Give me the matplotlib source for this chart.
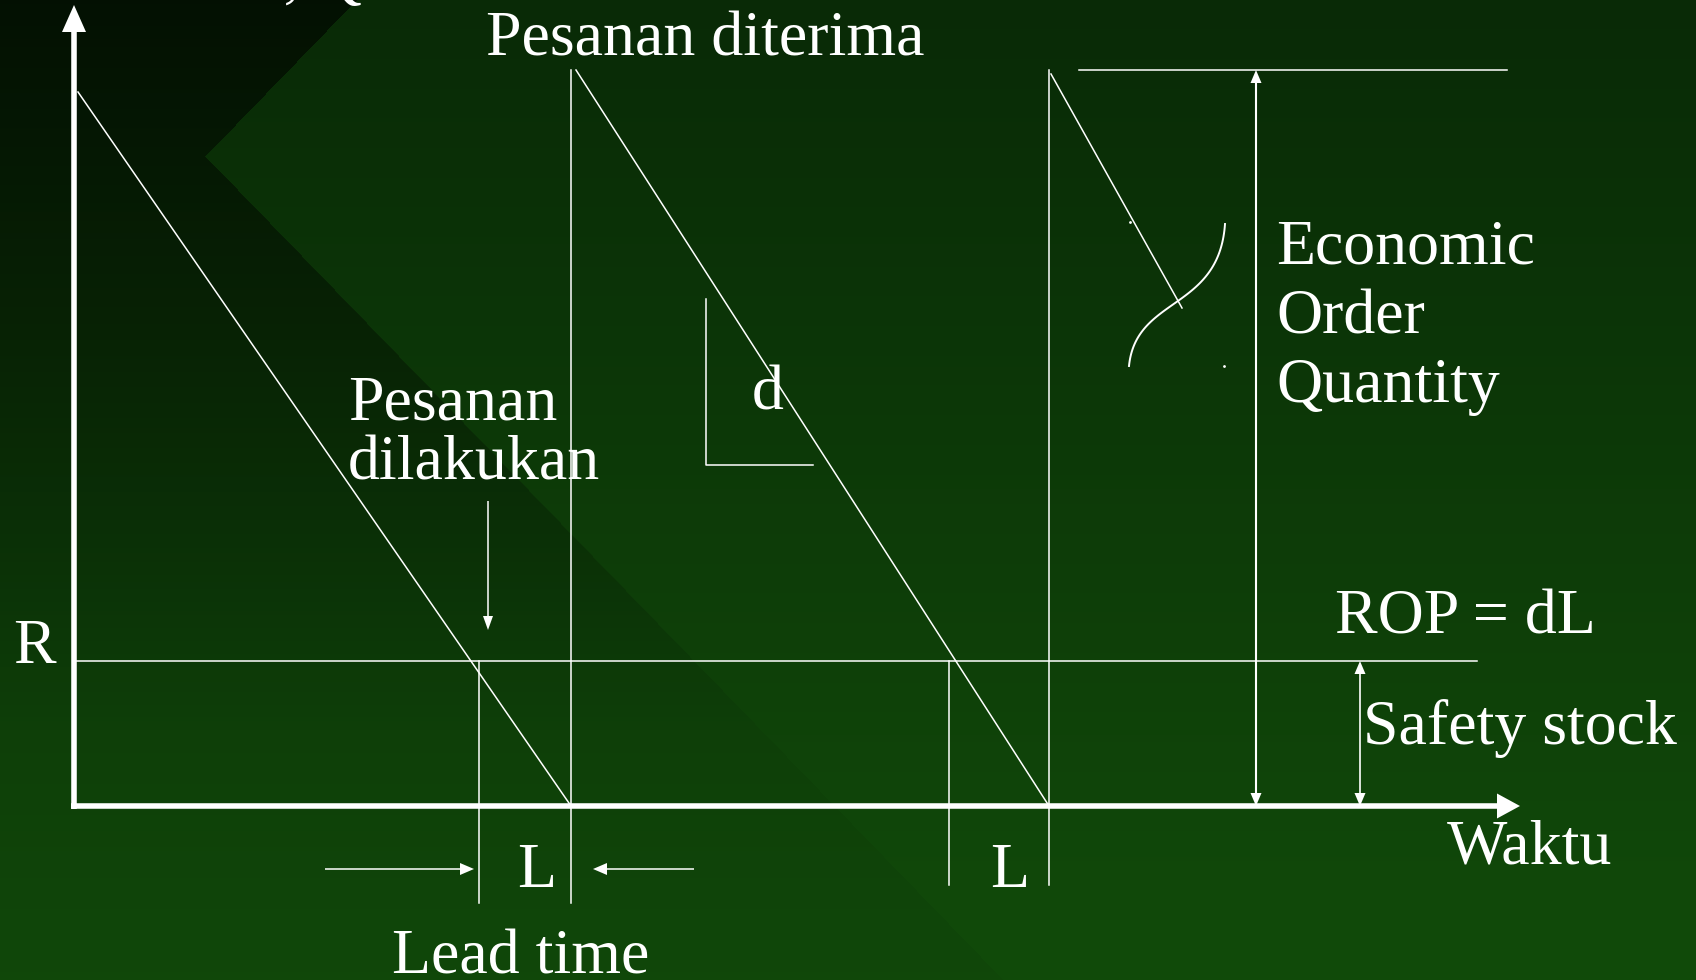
import numpy as np
import matplotlib
matplotlib.use("Agg")
import matplotlib.pyplot as plt

# --- diagram values (time units on x, stock units on y; origin = axis corner) ---
AXIS_X_END = 1446
AXIS_Y_END = 801
R_LEVEL = 145                         # reorder point
Q_LEVEL = 736                         # level after a delivery
START_LEVEL = 714                     # first cycle start
CYCLE_ENDS = [497, 975]               # deliveries (stock hits zero)
ORDER_TIMES = [405, 875]              # stock hits R -> order placed
DELIVERY_LINE_BOTTOM = [-97, -79]
ORDER_LINE_BOTTOM = [-97, -79]
LAST_SEGMENT = [(977, 732), (1108, 498)]
EOQ_TOP_LINE = [1005, 1433]
EOQ_ARROW_T = 1182
SAFETY_ARROW_T = 1286
ROP_LINE_END = 1403
ORDER_ARROW = [(414, 305), (414, 176)]
LEAD_ARROWS = [((251, -63), (400, -63)), ((620, -63), (519, -63))]
SLOPE_MARK = [(632, 507), (632, 341), (739, 341)]
BRACE = [(1055, 440), (1062, 510), (1145, 495), (1151, 582)]
BRACE_DOTS = [(1056, 584), (1150, 440)]

LABELS = [
    ("Persediaan, Q", 288, 810, "right"),
    ("Pesanan diterima", 631, 750, "center"),
    ("Pesanan", 274, 386, "left"),
    ("dilakukan", 274, 327, "left"),
    ("d", 678, 397, "left"),
    ("Economic", 1202, 543, "left"),
    ("Order", 1202, 473, "left"),
    ("Quantity", 1202, 404, "left"),
    ("R", -61, 143, "left"),
    ("ROP = dL", 1261, 173, "left"),
    ("Safety stock", 1289, 62, "left"),
    ("Waktu", 1373, -57, "left"),
    ("L", 443, -81, "left"),
    ("L", 916, -81, "left"),
    ("Lead time", 318, -167, "left"),
]

W, H = 1696, 980
X0, Y0 = -74, -174
X1, Y1 = X0 + W, Y0 + H

fig = plt.figure(figsize=(W / 100, H / 100), dpi=100)
ax = fig.add_axes([0, 0, 1, 1])
ax.set_xlim(X0, X1)
ax.set_ylim(Y0, Y1)
ax.axis("off")

# background: vertical green gradient, darker wedge on the upper left
py, px = np.mgrid[0:H, 0:W].astype(float)
f = py / (H - 1)
top_c, bot_c = np.array([9, 42, 6]), np.array([17, 75, 10])
upper = px < 357 - (357 - 205) * py / 157
lower = px < 205 + (py - 157) * 0.97
left = np.where(py < 157, upper, lower)
col = top_c * (1 - f[..., None]) + bot_c * f[..., None]
dark = 0.4 + 0.55 * np.clip(f / 0.75, 0, 1)
col = np.where(left[..., None], col * dark[..., None], col)
ax.imshow(col / 255.0, extent=(X0, X1, Y0, Y1), origin="upper", aspect="auto", zorder=0)

WHITE = "white"
THIN = 1.1


def arrow(p0, p1, lw, hl, hw):
    (x0, y0), (x1, y1) = p0, p1
    d = np.array([x1 - x0, y1 - y0], float)
    d /= np.hypot(*d)
    n = np.array([-d[1], d[0]])
    base = np.array([x1, y1]) - d * hl
    ax.plot([x0, base[0]], [y0, base[1]], color=WHITE, lw=lw,
            solid_capstyle="butt", zorder=3)
    tri = np.array([[x1, y1], base + n * hw / 2, base - n * hw / 2])
    ax.fill(tri[:, 0], tri[:, 1], color=WHITE, lw=0, zorder=3)


# axes
arrow((0, -3), (0, AXIS_Y_END), 4.0, 27, 24)
arrow((-3, 0), (AXIS_X_END, 0), 4.0, 23, 25)

# saw-tooth stock lines
ax.plot([4, CYCLE_ENDS[0]], [START_LEVEL, 0], color=WHITE, lw=THIN, zorder=2)
ax.plot([CYCLE_ENDS[0] + 5, CYCLE_ENDS[1]], [Q_LEVEL, 0], color=WHITE, lw=THIN, zorder=2)
ax.plot(*zip(*LAST_SEGMENT), color=WHITE, lw=THIN, zorder=2)

# delivery verticals and order verticals
for t, b in zip(CYCLE_ENDS, DELIVERY_LINE_BOTTOM):
    ax.plot([t, t], [b, Q_LEVEL], color=WHITE, lw=THIN, zorder=2)
for t, b in zip(ORDER_TIMES, ORDER_LINE_BOTTOM):
    ax.plot([t, t], [b, R_LEVEL], color=WHITE, lw=THIN, zorder=2)

# ROP line and EOQ top line
ax.plot([0, ROP_LINE_END], [R_LEVEL, R_LEVEL], color=WHITE, lw=THIN, zorder=2)
ax.plot(EOQ_TOP_LINE, [Q_LEVEL, Q_LEVEL], color=WHITE, lw=THIN, zorder=2)

# double arrows
for t, lo, hi, lw in [(EOQ_ARROW_T, 0, Q_LEVEL, 1.5), (SAFETY_ARROW_T, 0, R_LEVEL, 1.2)]:
    mid = (lo + hi) / 2
    arrow((t, mid), (t, hi), lw, 13, 11)
    arrow((t, mid), (t, lo), lw, 13, 11)

# order-placed arrow and lead-time arrows
arrow(ORDER_ARROW[0], ORDER_ARROW[1], THIN, 14, 10)
for a, b in LEAD_ARROWS:
    arrow(a, b, THIN, 14, 12)

# slope mark for demand rate d
ax.plot(*zip(*SLOPE_MARK), color=WHITE, lw=THIN, zorder=2)

# brace linking the last segment to the EOQ label
bp = np.array(BRACE, float)
s = np.linspace(0, 1, 80)[:, None]
curve = ((1 - s) ** 3 * bp[0] + 3 * (1 - s) ** 2 * s * bp[1]
         + 3 * (1 - s) * s ** 2 * bp[2] + s ** 3 * bp[3])
ax.plot(curve[:, 0], curve[:, 1], color=WHITE, lw=1.4, zorder=2)
ax.plot(*zip(*BRACE_DOTS), ls="none", marker="o", ms=1, color=WHITE, zorder=2)

for txt, x, y, ha in LABELS:
    ax.text(x, y, txt, ha=ha, va="baseline", color=WHITE, fontsize=46,
            family="Liberation Serif", zorder=4)

fig.savefig("out.png", dpi=100)
